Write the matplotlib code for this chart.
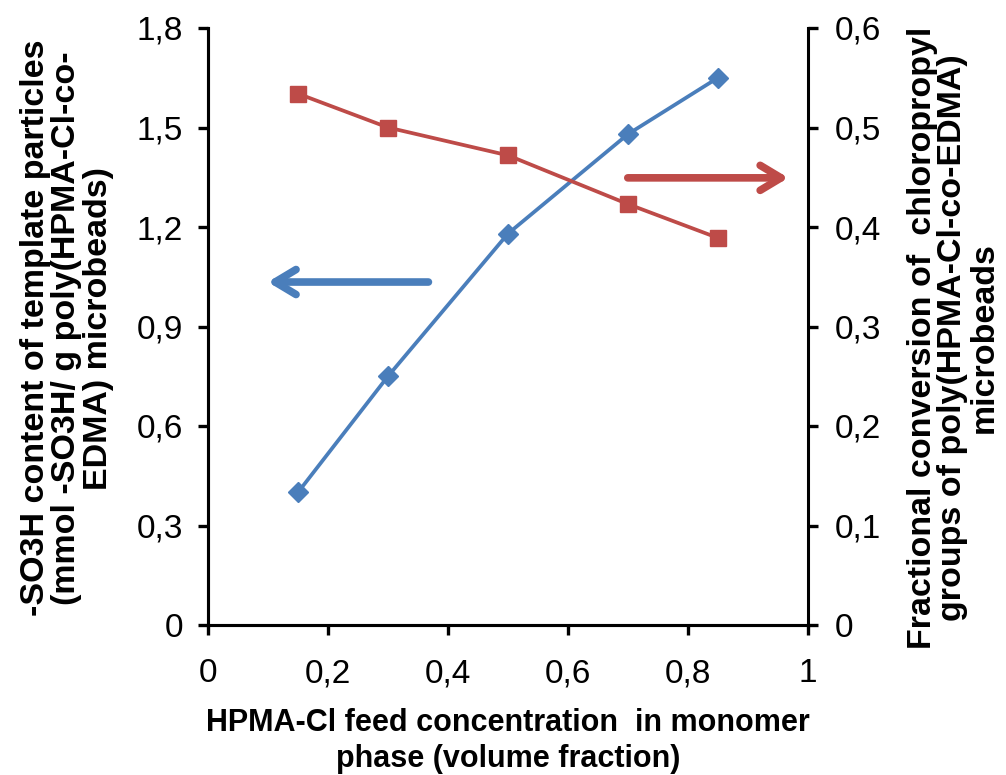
import numpy as np
from matplotlib import pyplot as plt
from matplotlib.ticker import FuncFormatter

# data
feed = [0.15, 0.30, 0.50, 0.70, 0.85]
so3h = [0.40, 0.75, 1.18, 1.48, 1.65]
conversion = [0.534, 0.500, 0.472, 0.423, 0.389]

x_ticks = [0, 0.2, 0.4, 0.6, 0.8, 1.0]
left_ticks = [0, 0.3, 0.6, 0.9, 1.2, 1.5, 1.8]
right_ticks = [0, 0.1, 0.2, 0.3, 0.4, 0.5, 0.6]

blue = '#4A7EBB'
red = '#BE4B48'

plt.rcParams['font.family'] = ['Liberation Sans', 'DejaVu Sans']

def comma(v, pos):
	s = ('%.1f' % v).rstrip('0').rstrip('.')
	return s.replace('.', ',')

fig = plt.figure(figsize=(10.06, 7.75), dpi=100)
ax = fig.add_axes([208/1006, 1-625/775, 600/1006, 597/775])
ax2 = ax.twinx()

ax.plot(feed, so3h, '-', color=blue, lw=2.7, marker='D', ms=10, mec=blue, mfc=blue)
ax2.plot(feed, conversion, '-', color=red, lw=2.7, marker='s', ms=12, mec=red, mfc=red)

ax.set_xlim(0, 1)
ax.set_ylim(0, 1.8)
ax2.set_ylim(0, 0.6)
ax.set_xticks(x_ticks)
ax.set_yticks(left_ticks)
ax2.set_yticks(right_ticks)
for a in [ax, ax2]:
	a.xaxis.set_major_formatter(FuncFormatter(comma))
	a.yaxis.set_major_formatter(FuncFormatter(comma))
	a.spines['top'].set_visible(False)
	for s in a.spines.values():
		s.set_linewidth(2.2)
ax.spines['right'].set_visible(False)
ax.tick_params(axis='x', length=7, width=2.4, labelsize=24, pad=17)
ax.tick_params(axis='y', length=7, width=2.4, labelsize=24, pad=11)
ax2.tick_params(axis='y', length=7, width=2.4, labelsize=24, pad=12)

# arrows pointing to each axis
ax.annotate('', xy=(0.095, 0.5745), xytext=(0.372, 0.5745), xycoords='axes fraction',
	arrowprops=dict(arrowstyle='->, head_length=1.5, head_width=0.9', color=blue, lw=5.5))
ax.annotate('', xy=(0.972, 0.749), xytext=(0.695, 0.749), xycoords='axes fraction',
	arrowprops=dict(arrowstyle='->, head_length=1.5, head_width=0.9', color=red, lw=5.5))

lab = dict(fontweight='bold', ha='center', va='center', linespacing=1.0)
fig.text(508/1006, 1-741/775, 'HPMA-Cl feed concentration  in monomer\nphase (volume fraction)', fontsize=22, linespacing=1.25,
	fontweight='bold', ha='center', va='center')
fig.text(67/1006, 1-328/775, '-SO3H content of template particles\n(mmol -SO3H/ g poly(HPMA-Cl-co-\nEDMA) microbeads)', rotation=90, fontsize=24.5, **lab)
fig.text(953/1006, 1-338/775, 'Fractional conversion of  chloropropyl\ngroups of poly(HPMA-Cl-co-EDMA)\nmicrobeads', rotation=90, fontsize=24.5, **lab)

fig.savefig('out.png', dpi=100)
